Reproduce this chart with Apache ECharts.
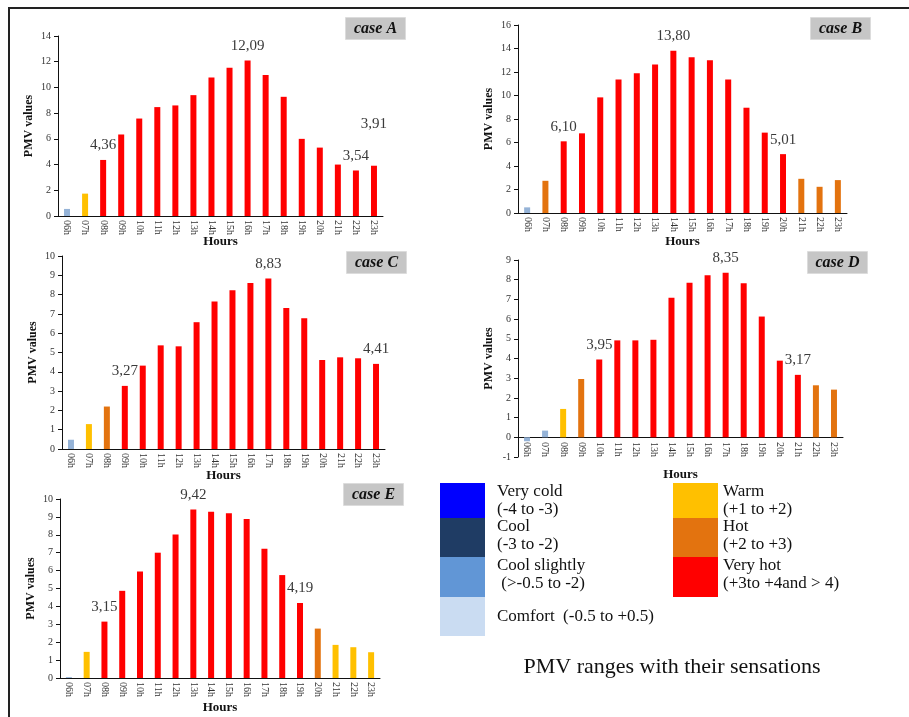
<!DOCTYPE html>
<html>
<head>
<meta charset="utf-8">
<script src="https://cdn.jsdelivr.net/npm/echarts@6/dist/echarts.min.js"></script>
<style>
  html, body { margin: 0; padding: 0; background: #fff; }
  #chart { width: 909px; height: 717px; }
</style>
</head>
<body>
<div id="chart"></div>
<script>
// hours of the day (categories)
const hours = ['06h', '07h', '08h', '09h', '10h', '11h', '12h', '13h', '14h', '15h', '16h', '17h', '18h', '19h', '20h', '21h', '22h', '23h']

// PMV values per case
const caseA = [0.55, 1.74, 4.36, 6.34, 7.58, 8.47, 8.6, 9.4, 10.78, 11.53, 12.09, 10.96, 9.27, 6.0, 5.32, 4.0, 3.54, 3.91]
const caseB = [0.48, 2.74, 6.10, 6.78, 9.84, 11.36, 11.9, 12.64, 13.80, 13.26, 13.0, 11.36, 8.96, 6.84, 5.01, 2.91, 2.23, 2.8]
const caseC = [0.48, 1.29, 2.2, 3.27, 4.32, 5.37, 5.32, 6.57, 7.64, 8.23, 8.6, 8.83, 7.3, 6.78, 4.61, 4.75, 4.7, 4.41]
const caseD = [-0.2, 0.34, 1.44, 2.96, 3.95, 4.92, 4.92, 4.95, 7.08, 7.85, 8.23, 8.35, 7.82, 6.13, 3.89, 3.17, 2.64, 2.42]
const caseE = [0.05, 1.46, 3.15, 4.87, 5.95, 7.0, 8.02, 9.42, 9.29, 9.2, 8.88, 7.22, 5.75, 4.19, 2.76, 1.85, 1.72, 1.44]

// which bars carry a value label (category indexes)
const labelsA = [2, 10, 16, 17]
const labelsB = [2, 8, 14]
const labelsC = [3, 11, 17]
const labelsD = [4, 11, 15]
const labelsE = [2, 7, 13]

// legend: PMV ranges and their sensations
const legendNames = ['Very cold', 'Cool', 'Cool slightly', 'Comfort', 'Warm', 'Hot', 'Very hot']
const legendRanges = ['(-4 to -3)', '(-3 to -2)', ' (>-0.5 to -2)', '(-0.5 to +0.5)', '(+1 to +2)', '(+2 to +3)', '(+3to +4and > 4)']
const legendColors = ['#0000ff', '#1f3c64', '#6196d6', '#cadcf2', '#ffc000', '#e3730f', '#ff0000']

const SERIF = '"Liberation Serif", "DejaVu Serif", serif'

function barColor(v) {
  if (v >= 3) return '#ff0000'
  if (v >= 2) return '#e3730f'
  if (v >= 1) return '#ffc000'
  return '#95b3d7'
}

// panel layout (pixels)
const panels = [
  { name: 'case A', data: caseA, labels: labelsA, min: 0, max: 14, step: 2, left: 58, top: 36, width: 325, height: 180, nameGap: 19, labelMargin: 4, box: [345, 17] },
  { name: 'case B', data: caseB, labels: labelsB, min: 0, max: 16, step: 2, left: 518, top: 25, width: 329, height: 188, nameGap: 22, labelMargin: 4, box: [810, 17] },
  { name: 'case C', data: caseC, labels: labelsC, min: 0, max: 10, step: 1, left: 62, top: 256, width: 323, height: 193, nameGap: 20, labelMargin: 4, box: [346, 251] },
  // case D: labels hang from the zero line, which sits above the grid bottom
  { name: 'case D', data: caseD, labels: labelsD, min: -1, max: 9, step: 1, left: 518, top: 260, width: 325, height: 197, nameGap: 11, labelMargin: -15, box: [807, 251] },
  { name: 'case E', data: caseE, labels: labelsE, min: 0, max: 10, step: 1, left: 60, top: 499, width: 320, height: 179, nameGap: 23, labelMargin: 4, box: [343, 483] },
]

const grid = [], xAxis = [], yAxis = [], series = [], graphic = []

panels.forEach((p, i) => {
  grid.push({ left: p.left, top: p.top, width: p.width, height: p.height })
  xAxis.push({
    type: 'category',
    gridIndex: i,
    data: hours,
    name: 'Hours',
    nameLocation: 'middle',
    nameGap: p.nameGap,
    nameMoveOverlap: false,
    nameTextStyle: { fontFamily: SERIF, fontWeight: 'bold', fontSize: 13, color: '#111' },
    axisLine: { lineStyle: { color: '#111', width: 1 } },
    axisTick: { length: 3, lineStyle: { color: '#111' } },
    axisLabel: { rotate: -90, interval: 0, margin: p.labelMargin, fontFamily: SERIF, fontSize: 10, color: '#333' },
  })
  yAxis.push({
    type: 'value',
    gridIndex: i,
    min: p.min,
    max: p.max,
    interval: p.step,
    name: 'PMV values',
    nameLocation: 'middle',
    nameGap: 23,
    nameTextStyle: { fontFamily: SERIF, fontWeight: 'bold', fontSize: 12, color: '#111' },
    splitLine: { show: false },
    axisLine: { show: true, lineStyle: { color: '#111', width: 1 } },
    axisTick: { show: true, length: 4, lineStyle: { color: '#111' } },
    axisLabel: { margin: 7, fontFamily: SERIF, fontSize: 10, color: '#333' },
  })
  series.push({
    type: 'bar',
    xAxisIndex: i,
    yAxisIndex: i,
    barWidth: 6,
    animation: false,
    data: p.data.map((v, k) => {
      const item = { value: v, itemStyle: { color: barColor(v) } }
      if (p.labels.includes(k)) {
        item.label = {
          show: true,
          position: 'top',
          distance: 7,
          formatter: () => v.toFixed(2).replace('.', ','),
          fontFamily: SERIF,
          fontSize: 15,
          color: '#3a3a3a',
        }
        // the 23h label of case A floats higher
        if (p.name === 'case A' && k === 17) item.label.offset = [0, -27]
      }
      return item
    }),
  })
  graphic.push({
    type: 'group',
    left: p.box[0],
    top: p.box[1],
    children: [
      { type: 'rect', shape: { x: 0, y: 0, width: 60, height: 22 }, style: { fill: '#c6c6c6', stroke: '#dcdcdc', lineWidth: 1 } },
      { type: 'text', x: 30, y: 11, style: { text: p.name, fontFamily: SERIF, fontSize: 16, fontWeight: 'bold', fontStyle: 'italic', fill: '#111', align: 'center', verticalAlign: 'middle' } },
    ],
  })
})

// outer frame (top and left edges only)
graphic.push({ type: 'line', shape: { x1: 8, y1: 8, x2: 909, y2: 8 }, style: { stroke: '#222', lineWidth: 2 } })
graphic.push({ type: 'line', shape: { x1: 9, y1: 8, x2: 9, y2: 717 }, style: { stroke: '#222', lineWidth: 2 } })

// legend blocks
const swatchTops = [483, 518, 557, 597]
const legendText = { fontFamily: SERIF, fontSize: 17, fill: '#111' }
legendNames.forEach((name, i) => {
  const col = i < 4 ? 0 : 1
  const row = i < 4 ? i : i - 4
  const x = col === 0 ? 440 : 673
  const y0 = swatchTops[row]
  const y1 = row < 3 ? swatchTops[row + 1] : 636
  graphic.push({ type: 'rect', shape: { x: x, y: y0, width: 45, height: y1 - y0 }, style: { fill: legendColors[i] } })
  const tx = col === 0 ? 497 : 723
  if (name === 'Comfort') {
    graphic.push({ type: 'text', x: tx, y: 617, style: Object.assign({ text: name + '  ' + legendRanges[i], verticalAlign: 'middle' }, legendText) })
  } else {
    graphic.push({ type: 'text', x: tx, y: y0 + 9, style: Object.assign({ text: name, verticalAlign: 'middle' }, legendText) })
    graphic.push({ type: 'text', x: tx, y: y0 + 27, style: Object.assign({ text: legendRanges[i], verticalAlign: 'middle' }, legendText) })
  }
})
graphic.push({ type: 'text', x: 672, y: 667, style: { text: 'PMV ranges with their sensations', fontFamily: SERIF, fontSize: 22, fill: '#111', align: 'center', verticalAlign: 'middle' } })

const chart = echarts.init(document.getElementById('chart'))
chart.setOption({
  animation: false,
  grid,
  xAxis,
  yAxis,
  series,
  graphic,
})
</script>
</body>
</html>
